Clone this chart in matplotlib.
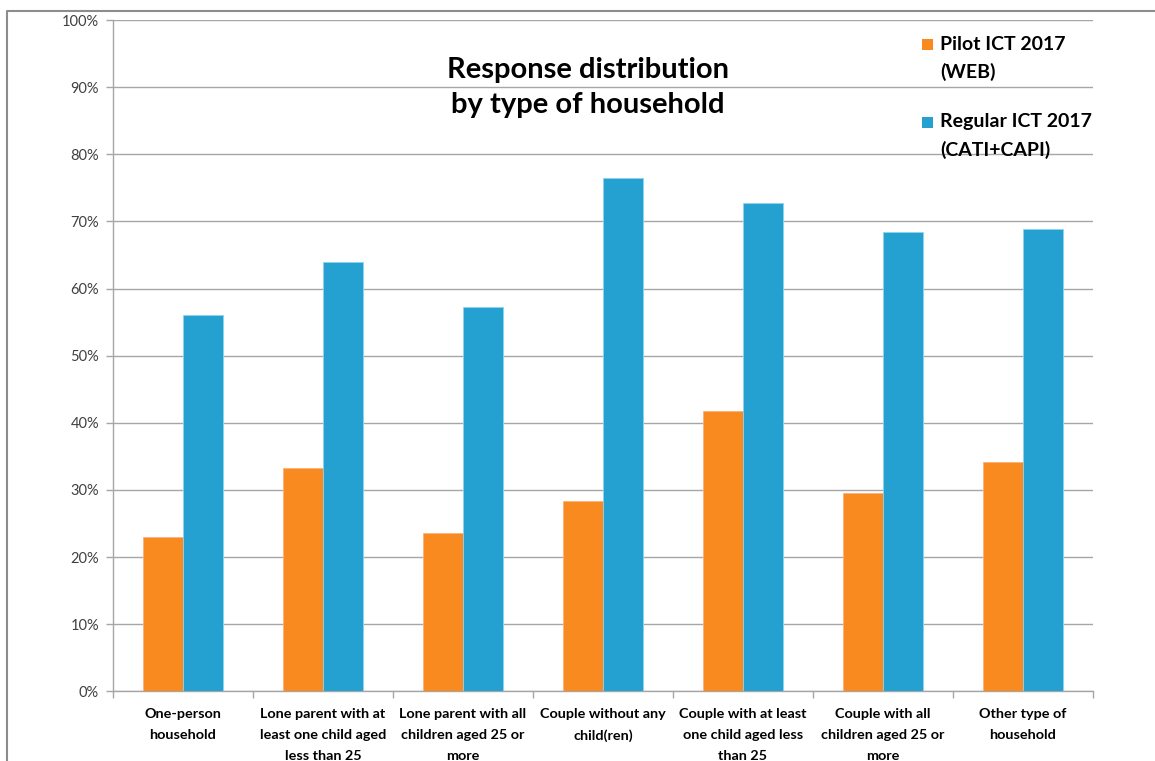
import numpy as np
import matplotlib
matplotlib.use("Agg")
import matplotlib.pyplot as plt
from matplotlib.patches import Rectangle
from matplotlib.lines import Line2D
from matplotlib.ticker import FixedLocator, FuncFormatter

# ---- data -------------------------------------------------------------
categories = [
    "One-person\nhousehold",
    "Lone parent with at\nleast one child aged\nless than 25",
    "Lone parent with all\nchildren aged 25 or\nmore",
    "Couple without any\nchild(ren)",
    "Couple with at least\none child aged less\nthan 25",
    "Couple with all\nchildren aged 25 or\nmore",
    "Other type of\nhousehold",
]
pilot_web = [23.0, 33.3, 23.6, 28.4, 41.8, 29.5, 34.1]
regular_cati_capi = [56.0, 63.9, 57.2, 76.5, 72.7, 68.4, 68.8]
series_names = ["Pilot ICT 2017\n(WEB)", "Regular ICT 2017\n(CATI+CAPI)"]
title_lines = ["Response distribution", "by type of household"]
y_ticks = list(range(0, 101, 10))

# ---- style ------------------------------------------------------------
ORANGE = "#F98A1F"
BLUE = "#25A1D1"
GRID = "#A6A6A6"
FONT = "Lato"

W, H = 1155, 761
fig = plt.figure(figsize=(W / 100, H / 100), dpi=100)
fig.patch.set_facecolor("white")

def fx(px):
    return px / W

def fy(py):
    return 1 - py / H

ax = fig.add_axes([fx(113), fy(691.3), fx(1093) - fx(113), fy(20) - fy(691.3)])

x = np.arange(len(categories))
bw = 1 / 3.5
ax.bar(x - bw / 2, pilot_web, width=bw, color=ORANGE,
       edgecolor="#FBB27A", linewidth=0.6, zorder=3)
ax.bar(x + bw / 2, regular_cati_capi, width=bw, color=BLUE,
       edgecolor="#8FD3EE", linewidth=0.6, zorder=3)

ax.set_xlim(-0.5, len(categories) - 0.5)
ax.set_ylim(0, 100)

# y axis: percentage ticks and horizontal gridlines
ax.yaxis.set_major_locator(FixedLocator(y_ticks))
ax.yaxis.set_major_formatter(FuncFormatter(lambda v, _: f"{v:.0f}%"))
ax.grid(axis="y", color=GRID, linewidth=1.0, zorder=0)
ax.tick_params(axis="y", direction="out", length=5, width=1, color=GRID,
               pad=5, labelsize=10.5, labelcolor="#404040")
for lab in ax.get_yticklabels():
    lab.set_fontfamily(FONT)

# x axis: boundary ticks, labels centred under each group
ax.xaxis.set_major_locator(FixedLocator(np.arange(len(categories) + 1) - 0.5))
ax.xaxis.set_major_formatter(FuncFormatter(lambda v, _: ""))
ax.set_xticks(x, minor=True)
ax.set_xticklabels(categories, minor=True, fontfamily=FONT, fontsize=10.4,
                   fontweight="bold", color="black", linespacing=1.9)
ax.tick_params(axis="x", which="major", direction="out", length=5, width=1,
               color=GRID)
ax.tick_params(axis="x", which="minor", length=0, pad=12)

for side in ("top", "right"):
    ax.spines[side].set_visible(False)
for side in ("left", "bottom"):
    ax.spines[side].set_color(GRID)
    ax.spines[side].set_linewidth(1.0)

# title
fig.text(fx(588), fy(70), title_lines[0], ha="center", va="center",
         fontfamily=FONT, fontsize=21, fontweight="bold")
fig.text(fx(588), fy(105), title_lines[1], ha="center", va="center",
         fontfamily=FONT, fontsize=21, fontweight="bold")

# legend
for (name, col, ytop) in [(series_names[0], ORANGE, 44), (series_names[1], BLUE, 122)]:
    fig.patches.append(Rectangle((fx(922), fy(ytop + 5.5)), fx(11), 11 / H,
                                 transform=fig.transFigure, facecolor=col,
                                 edgecolor="none"))
    first, second = name.split("\n")
    fig.text(fx(940), fy(ytop), first, ha="left", va="center",
             fontfamily=FONT, fontsize=14, fontweight="bold")
    fig.text(fx(940), fy(ytop + 28), second, ha="left", va="center",
             fontfamily=FONT, fontsize=14, fontweight="bold")

# chart frame
fig.lines.append(Line2D([fx(7), fx(7), 1.0], [0.0, fy(11), fy(11)],
                        transform=fig.transFigure, color="#8C8C8C",
                        linewidth=1.5))

fig.savefig("out.png", dpi=100, facecolor="white")
